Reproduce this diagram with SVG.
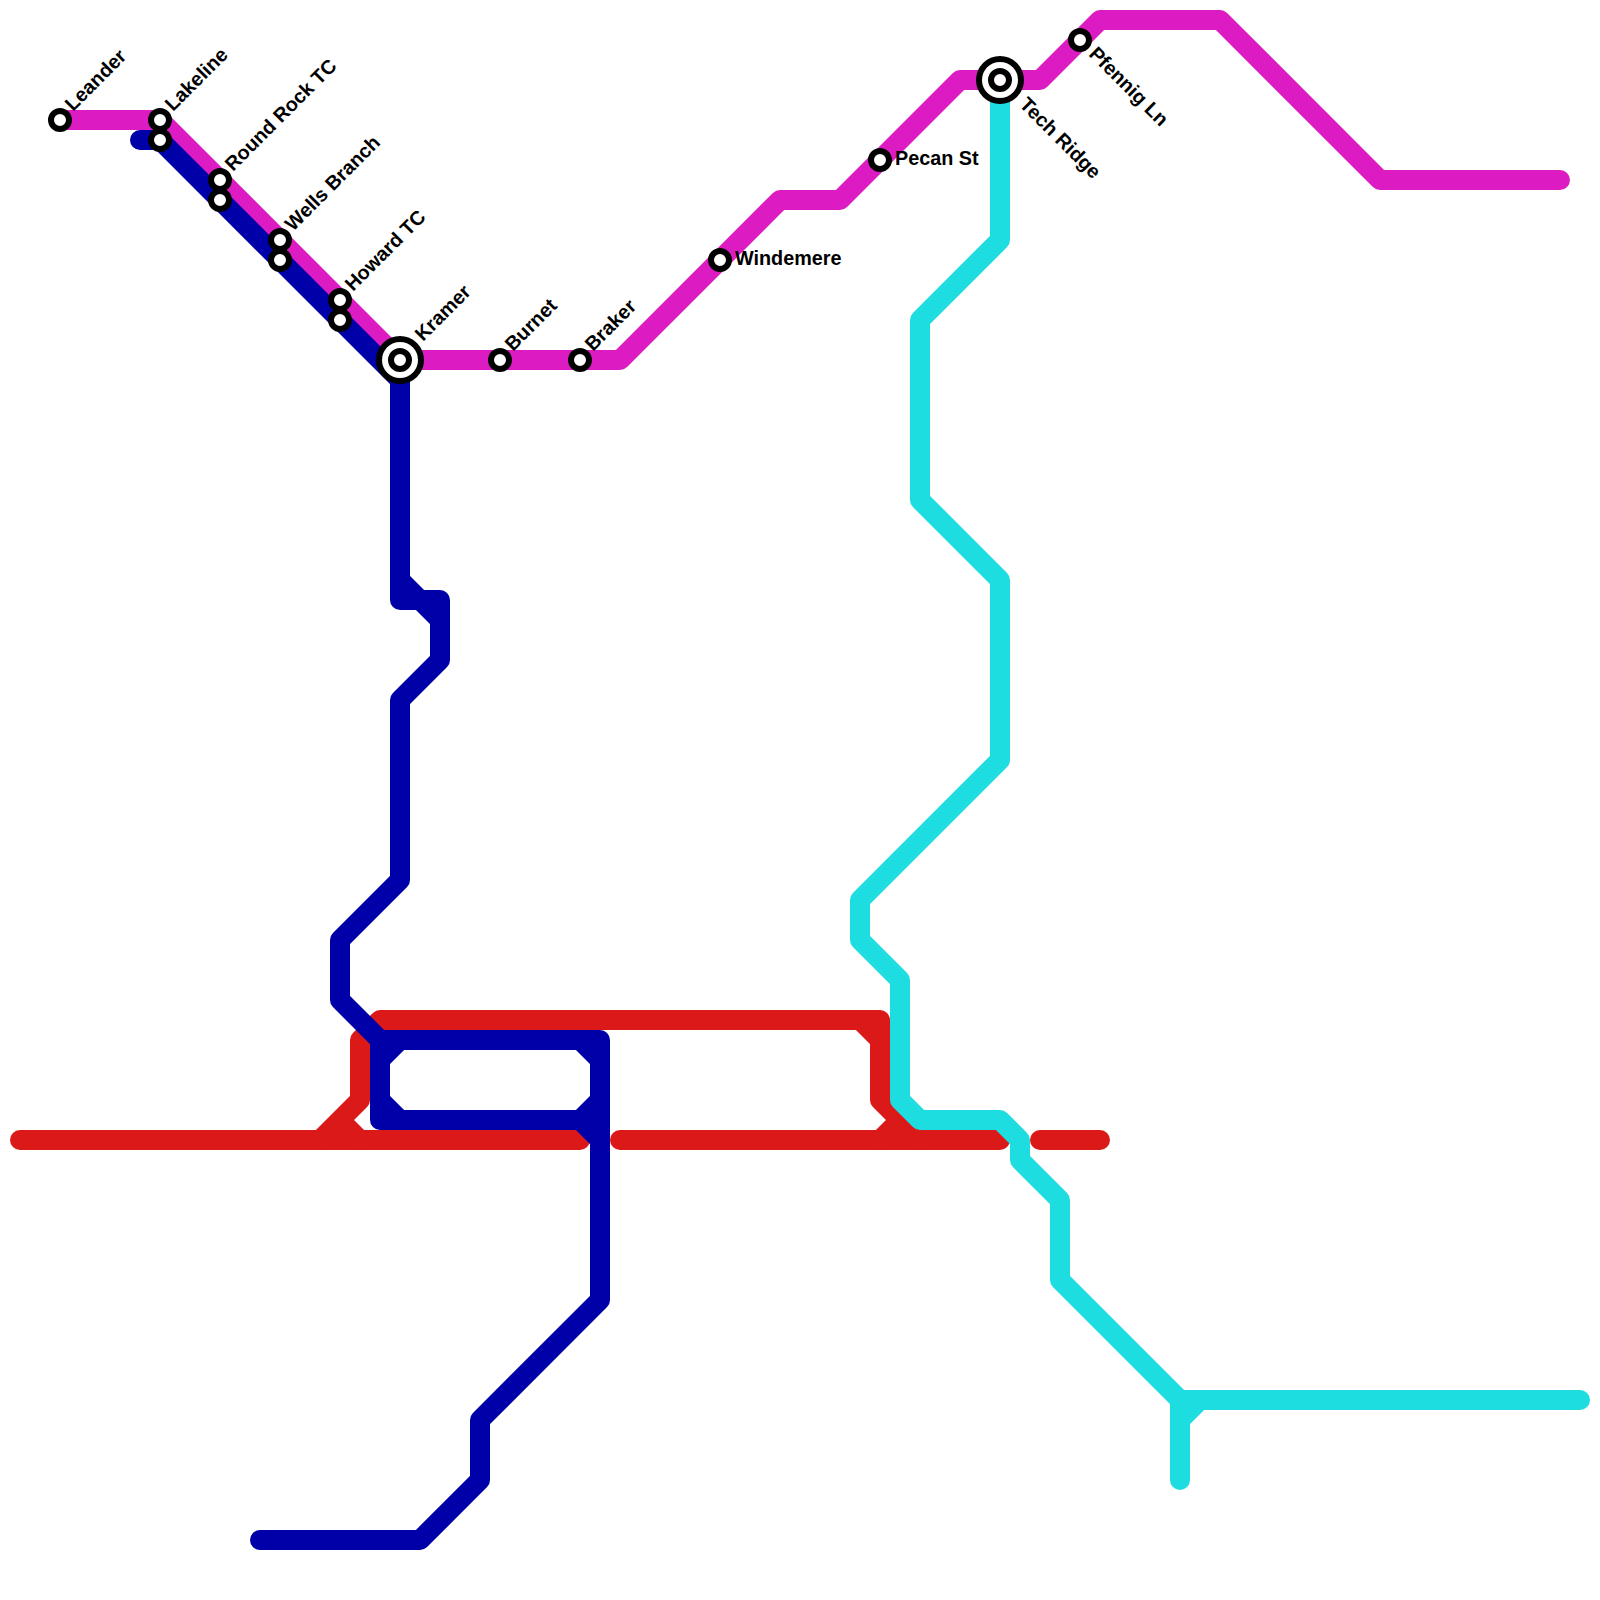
<svg xmlns="http://www.w3.org/2000/svg" width="1600" height="1600" viewBox="0 0 1600 1600">
<style>
.l{fill:none;stroke-width:20;stroke-linecap:round;stroke-linejoin:round}
.red{stroke:#dc1919}.blue{stroke:#0000a8}.mag{stroke:#dd1bc2}.cyan{stroke:#1edde0}
.s{fill:#fff;stroke:#000;stroke-width:6}
text{font-family:"Liberation Sans",Arial,sans-serif;font-weight:700;font-size:19.8px;fill:#000}
</style>
<rect width="1600" height="1600" fill="#fff"/>
<g id="connectors">
<path class="l red" d="M20 1140H580M620 1140H1000M1040 1140H1100"/>
<path class="l red" d="M320 1140L360 1100V1040L380 1020H880V1100L920 1140M340 1120L360 1140M860 1020L880 1040M880 1140L900 1120"/>
<path class="l mag" d="M60 120H160L400 360H620L780 200H840L960 80H1040L1100 20H1220L1380 180H1560"/>
<path class="l blue" d="M140 140H160L400 380V600H440V660L400 700V880L340 940V1000L380 1040H600V1300L480 1420V1480L420 1540H260"/>
<path class="l blue" d="M400 580L440 620M380 1060L400 1040M380 1040V1120H580L600 1140M380 1100L400 1120M580 1040L600 1060M600 1100L580 1120"/>
<path class="l cyan" d="M1000 80V240L920 320V500L1000 580V760L860 900V940L900 980V1100L920 1120H1000L1020 1140V1160L1060 1200V1280L1180 1400H1580M1180 1480V1400M1180 1420L1200 1400"/>
</g>
<g id="leander"><circle class="s" cx="60" cy="120" r="9"/><text transform="translate(73 112) rotate(-45)">Leander</text></g>
<g id="lakeline"><circle class="s" cx="160" cy="120" r="9"/><circle class="s" cx="160" cy="140" r="9"/><text transform="translate(173 112) rotate(-45)">Lakeline</text></g>
<g id="round-rock-tc"><circle class="s" cx="220" cy="180" r="9"/><circle class="s" cx="220" cy="200" r="9"/><text transform="translate(233 172) rotate(-45)">Round Rock TC</text></g>
<g id="wells-branch"><circle class="s" cx="280" cy="240" r="9"/><circle class="s" cx="280" cy="260" r="9"/><text transform="translate(293 232) rotate(-45)">Wells Branch</text></g>
<g id="howard-tc"><circle class="s" cx="340" cy="300" r="9"/><circle class="s" cx="340" cy="320" r="9"/><text transform="translate(353 292) rotate(-45)">Howard TC</text></g>
<g id="kramer"><circle cx="400" cy="360" r="24"/><circle cx="400" cy="360" r="18" fill="#fff"/><circle class="s" cx="400" cy="360" r="9"/><text transform="translate(423 342) rotate(-45)">Kramer</text></g>
<g id="burnet"><circle class="s" cx="500" cy="360" r="9"/><text transform="translate(513 352) rotate(-45)">Burnet</text></g>
<g id="braker"><circle class="s" cx="580" cy="360" r="9"/><text transform="translate(593 352) rotate(-45)">Braker</text></g>
<g id="windemere"><circle class="s" cx="720" cy="260" r="9"/><text x="735" y="265">Windemere</text></g>
<g id="pecan-st"><circle class="s" cx="880" cy="160" r="9"/><text x="895" y="165">Pecan St</text></g>
<g id="tech-ridge"><circle cx="1000" cy="80" r="24"/><circle cx="1000" cy="80" r="18" fill="#fff"/><circle class="s" cx="1000" cy="80" r="9"/><text transform="translate(1018.5 105.5) rotate(45)">Tech Ridge</text></g>
<g id="pfennig-ln"><circle class="s" cx="1080" cy="40" r="9"/><text transform="translate(1088 55) rotate(45)">Pfennig Ln</text></g>
</svg>
